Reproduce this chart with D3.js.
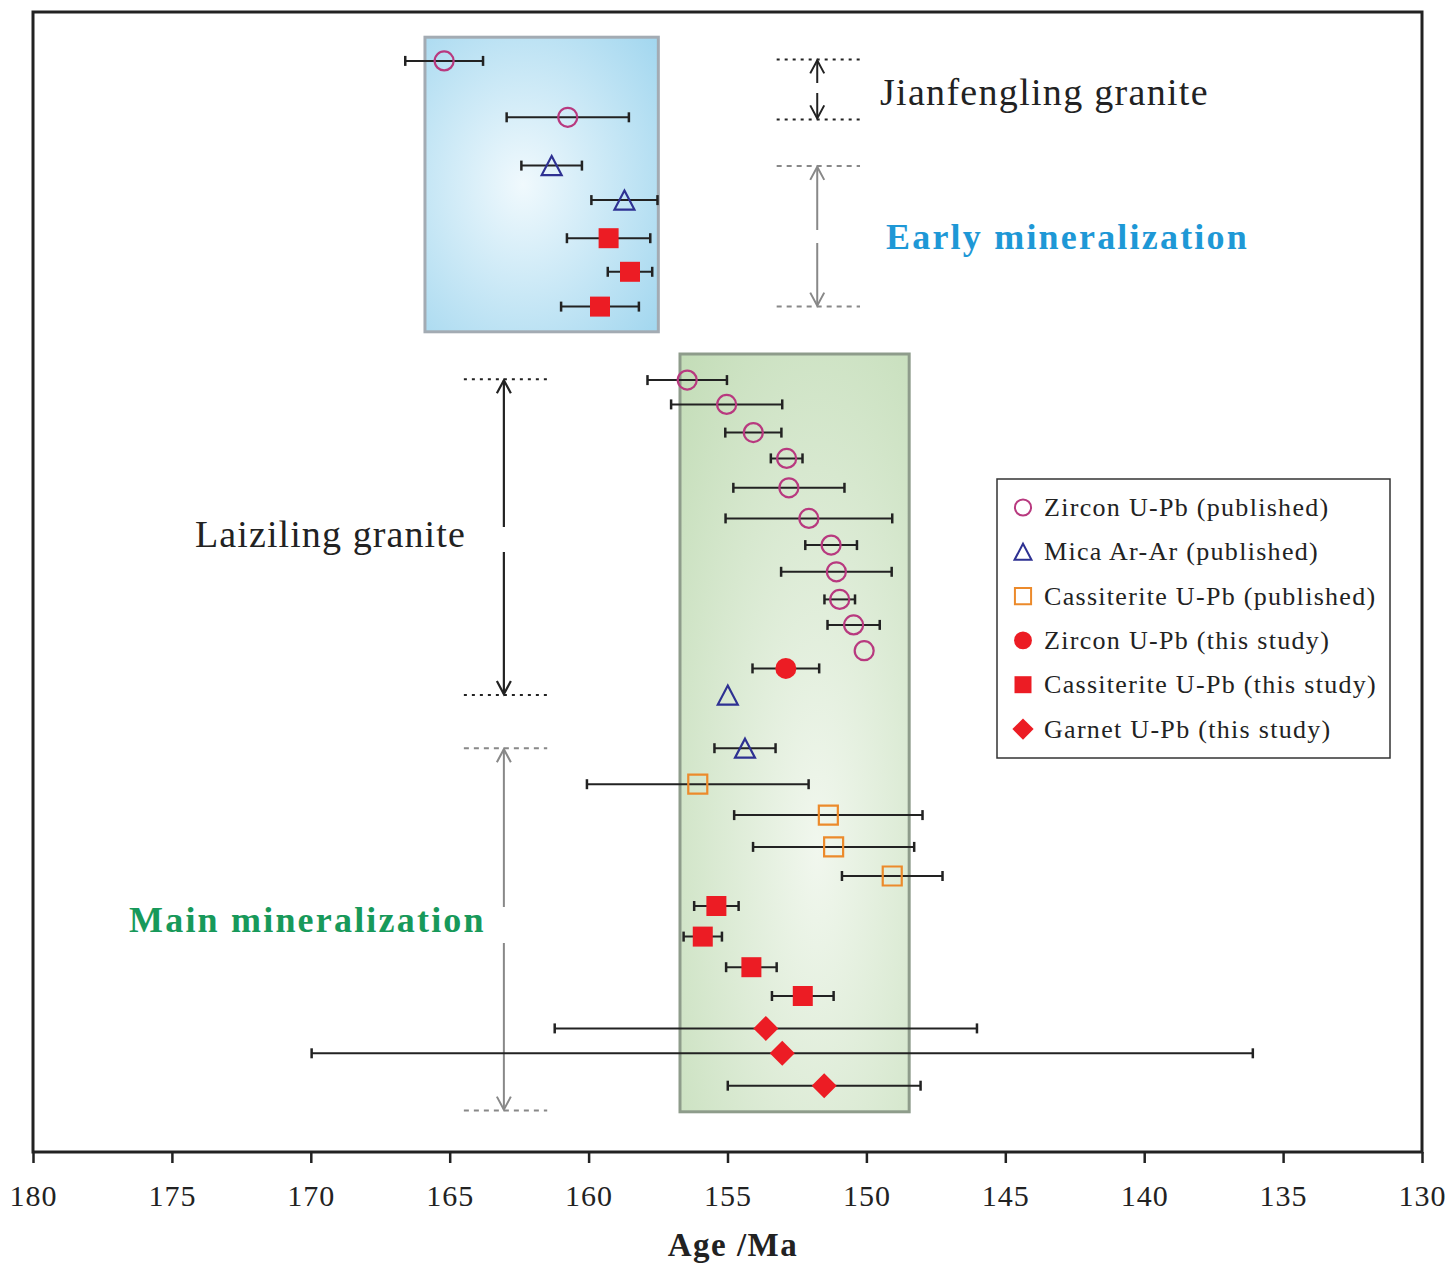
<!DOCTYPE html>
<html>
<head>
<meta charset="utf-8">
<script src="https://cdn.jsdelivr.net/npm/d3@7"></script>
<style>
body { margin: 0; background: #fff; }
text { font-family: "Liberation Serif", "Times New Roman", serif; }
</style>
</head>
<body>
<div id="vis"></div>
<script>
// ages (Ma), 2-sigma errors and row position (top = 0)
const zirconPub = [
  {age: 165.2, err: 1.4, row: 1.63}, {age: 160.75, err: 2.2, row: 3.51},
  {age: 156.45, err: 1.43, row: 12.27}, {age: 155.03, err: 2.0, row: 13.08},
  {age: 154.07, err: 1.01, row: 14.02}, {age: 152.87, err: 0.57, row: 14.88},
  {age: 152.79, err: 2.0, row: 15.86}, {age: 152.07, err: 3.0, row: 16.88},
  {age: 151.27, err: 0.93, row: 17.77}, {age: 151.08, err: 1.99, row: 18.66},
  {age: 150.96, err: 0.55, row: 19.58}, {age: 150.46, err: 0.94, row: 20.43},
  {age: 150.08, err: 0, row: 21.29}
];
const micaPub = [
  {age: 161.33, err: 1.09, row: 5.12}, {age: 158.71, err: 1.19, row: 6.27},
  {age: 154.99, err: 0, row: 22.77}, {age: 154.37, err: 1.1, row: 24.54}
];
const cassPub = [
  {age: 156.07, err: 3.99, row: 25.74}, {age: 151.37, err: 3.39, row: 26.77},
  {age: 151.18, err: 2.9, row: 27.83}, {age: 149.07, err: 1.81, row: 28.8}
];
const zirconThis = [
  {age: 152.9, err: 1.2, row: 21.88}
];
const cassThis = [
  {age: 159.28, err: 1.5, row: 7.54}, {age: 158.51, err: 0.8, row: 8.66},
  {age: 159.59, err: 1.4, row: 9.82},
  {age: 155.4, err: 0.8, row: 29.8}, {age: 155.89, err: 0.69, row: 30.82},
  {age: 154.14, err: 0.91, row: 31.84}, {age: 152.29, err: 1.11, row: 32.8}
];
const garnetThis = [
  {age: 153.62, err: 7.6, row: 33.88}, {age: 153.03, err: 16.94, row: 34.71},
  {age: 151.52, err: 3.47, row: 35.79}
];

const legendLabels = [
  "Zircon U-Pb (published)", "Mica Ar-Ar (published)", "Cassiterite U-Pb (published)",
  "Zircon U-Pb (this study)", "Cassiterite U-Pb (this study)", "Garnet U-Pb (this study)"
];
const tickValues = [180, 175, 170, 165, 160, 155, 150, 145, 140, 135, 130];

// shaded periods: [old, young] ages and row extent
const earlyBox = {x0: 165.89, x1: 157.49, r0: 0.84, r1: 10.66};
const mainBox = {x0: 156.71, x1: 148.46, r0: 11.4, r1: 36.66};

const W = 1453, H = 1263;
const svg = d3.select("#vis").append("svg").attr("width", W).attr("height", H);

const x = d3.scaleLinear().domain([180, 130]).range([33, 1422]);
const y = d3.scaleLinear().domain([0, 38]).range([12, 1152]);

const defs = svg.append("defs");
const gBlue = defs.append("radialGradient").attr("id", "gblue")
  .attr("cx", 0.42).attr("cy", 0.5).attr("r", 0.75);
gBlue.append("stop").attr("offset", "0%").attr("stop-color", "#f0f9fd");
gBlue.append("stop").attr("offset", "100%").attr("stop-color", "#a3d7ef");
const gGreen = defs.append("radialGradient").attr("id", "ggreen")
  .attr("cx", 0.6).attr("cy", 0.65).attr("r", 0.9);
gGreen.append("stop").attr("offset", "0%").attr("stop-color", "#f1f7ee");
gGreen.append("stop").attr("offset", "100%").attr("stop-color", "#c2dcb6");

function box(b, fill, stroke) {
  svg.append("rect")
    .attr("x", x(b.x0)).attr("y", y(b.r0))
    .attr("width", x(b.x1) - x(b.x0)).attr("height", y(b.r1) - y(b.r0))
    .attr("fill", fill).attr("stroke", stroke).attr("stroke-width", 3);
}
box(earlyBox, "url(#gblue)", "#a3abb3");
box(mainBox, "url(#ggreen)", "#8e9c8b");

// frame
svg.append("rect").attr("x", 33).attr("y", 12).attr("width", 1389).attr("height", 1140)
  .attr("fill", "none").attr("stroke", "#222").attr("stroke-width", 3);

const axis = svg.append("g")
  .attr("transform", "translate(0,1152)")
  .call(d3.axisBottom(x).tickValues(tickValues).tickSize(11).tickSizeOuter(0).tickPadding(22));
axis.select(".domain").remove();
axis.selectAll("line").attr("stroke", "#222").attr("stroke-width", 2.5);
axis.selectAll("text").attr("font-size", 30).attr("fill", "#222")
  .attr("font-family", "Liberation Serif").style("letter-spacing", "1px");

svg.append("text").attr("x", 733).attr("y", 1256).attr("text-anchor", "middle")
  .attr("font-size", 33).attr("font-weight", "bold").attr("fill", "#222")
  .style("letter-spacing", "1.5px").text("Age /Ma");

// brackets
function bracket(a0, a1, am, r0, r1, gap0, gap1, color, dash, w) {
  const g = svg.append("g");
  [r0, r1].forEach(r => {
    g.append("line").attr("x1", x(a0)).attr("x2", x(a1)).attr("y1", y(r)).attr("y2", y(r))
      .attr("stroke", color).attr("stroke-width", 2).attr("stroke-dasharray", dash);
  });
  const ax = x(am);
  g.append("line").attr("x1", ax).attr("x2", ax).attr("y1", y(r0) + 1).attr("y2", gap0)
    .attr("stroke", color).attr("stroke-width", w);
  g.append("line").attr("x1", ax).attr("x2", ax).attr("y1", gap1).attr("y2", y(r1) - 1)
    .attr("stroke", color).attr("stroke-width", w);
  const hw = 7, hh = 14;
  g.append("path").attr("d", `M${ax - hw},${y(r0) + hh}L${ax},${y(r0) + 1}L${ax + hw},${y(r0) + hh}`)
    .attr("fill", "none").attr("stroke", color).attr("stroke-width", w);
  g.append("path").attr("d", `M${ax - hw},${y(r1) - hh}L${ax},${y(r1) - 1}L${ax + hw},${y(r1) - hh}`)
    .attr("fill", "none").attr("stroke", color).attr("stroke-width", w);
}
bracket(153.23, 150.23, 151.77, 1.58, 3.58, 83, 93, "#222", "3,5", 2);
bracket(153.23, 150.23, 151.77, 5.13, 9.82, 230, 243, "#888", "5,5", 2);
bracket(164.49, 161.49, 163.05, 12.24, 22.77, 527, 552, "#222", "3,5", 2.2);
bracket(164.49, 161.49, 163.05, 24.54, 36.62, 907, 943, "#888", "5,5", 2);

function label(tx, ty, s, size, color, weight, ls) {
  svg.append("text").attr("x", tx).attr("y", ty).attr("font-size", size)
    .attr("fill", color).attr("font-weight", weight).style("letter-spacing", ls + "px").text(s);
}
label(880, 105, "Jianfengling granite", 38, "#222", "normal", 1.3);
label(886, 249, "Early mineralization", 36, "#1e98d6", "bold", 2.2);
label(195, 547, "Laiziling granite", 38, "#222", "normal", 1.1);
label(129, 932, "Main mineralization", 36, "#17995a", "bold", 2.2);

// error bars
const allSeries = [zirconPub, micaPub, cassPub, zirconThis, cassThis, garnetThis];
const bars = allSeries.flat().filter(d => d.err > 0);
const eb = svg.append("g").attr("stroke", "#222").attr("stroke-width", 2);
bars.forEach(d => {
  const yy = y(d.row), xl = x(d.age + d.err), xr = x(d.age - d.err);
  eb.append("line").attr("x1", xl).attr("x2", xr).attr("y1", yy).attr("y2", yy);
  eb.append("line").attr("x1", xl).attr("x2", xl).attr("y1", yy - 5).attr("y2", yy + 5).attr("stroke-width", 2.5);
  eb.append("line").attr("x1", xr).attr("x2", xr).attr("y1", yy - 5).attr("y2", yy + 5).attr("stroke-width", 2.5);
});

// symbols
const shapes = {
  circle: s => `M${s},0A${s},${s},0,1,1,${-s},0A${s},${s},0,1,1,${s},0Z`,
  square: s => `M${-s},${-s}H${s}V${s}H${-s}Z`,
  triangle: s => `M0,${-s}L${s * 1.05},${s}H${-s * 1.05}Z`,
  diamond: s => `M0,${-s}L${s},0L0,${s}L${-s},0Z`
};
const styles = [
  {shape: "circle", size: 9.5, fill: "none", stroke: "#b8397f"},
  {shape: "triangle", size: 9.5, fill: "none", stroke: "#2e3192"},
  {shape: "square", size: 9.5, fill: "none", stroke: "#ec8a2b"},
  {shape: "circle", size: 10.5, fill: "#ec1c24", stroke: "none"},
  {shape: "square", size: 10, fill: "#ec1c24", stroke: "none"},
  {shape: "diamond", size: 12.5, fill: "#ec1c24", stroke: "none"}
];
allSeries.forEach((ser, i) => {
  const st = styles[i];
  svg.append("g").selectAll("path").data(ser).join("path")
    .attr("transform", d => `translate(${x(d.age)},${y(d.row)})`)
    .attr("d", shapes[st.shape](st.size))
    .attr("fill", st.fill).attr("stroke", st.stroke).attr("stroke-width", 2.2);
});

// legend
const lg = svg.append("g").attr("transform", "translate(997,479)");
lg.append("rect").attr("width", 393).attr("height", 279)
  .attr("fill", "#fff").attr("stroke", "#333").attr("stroke-width", 1.5);
legendLabels.forEach((t, i) => {
  const st = styles[i];
  const cy = 28.5 + i * 44.3;
  lg.append("path").attr("transform", `translate(26,${cy})`)
    .attr("d", shapes[st.shape](st.size * 0.85))
    .attr("fill", st.fill).attr("stroke", st.stroke).attr("stroke-width", 2);
  lg.append("text").attr("x", 47).attr("y", cy + 8.5).attr("font-size", 26)
    .attr("fill", "#222").style("letter-spacing", "1.3px").text(t);
});
</script>
</body>
</html>
